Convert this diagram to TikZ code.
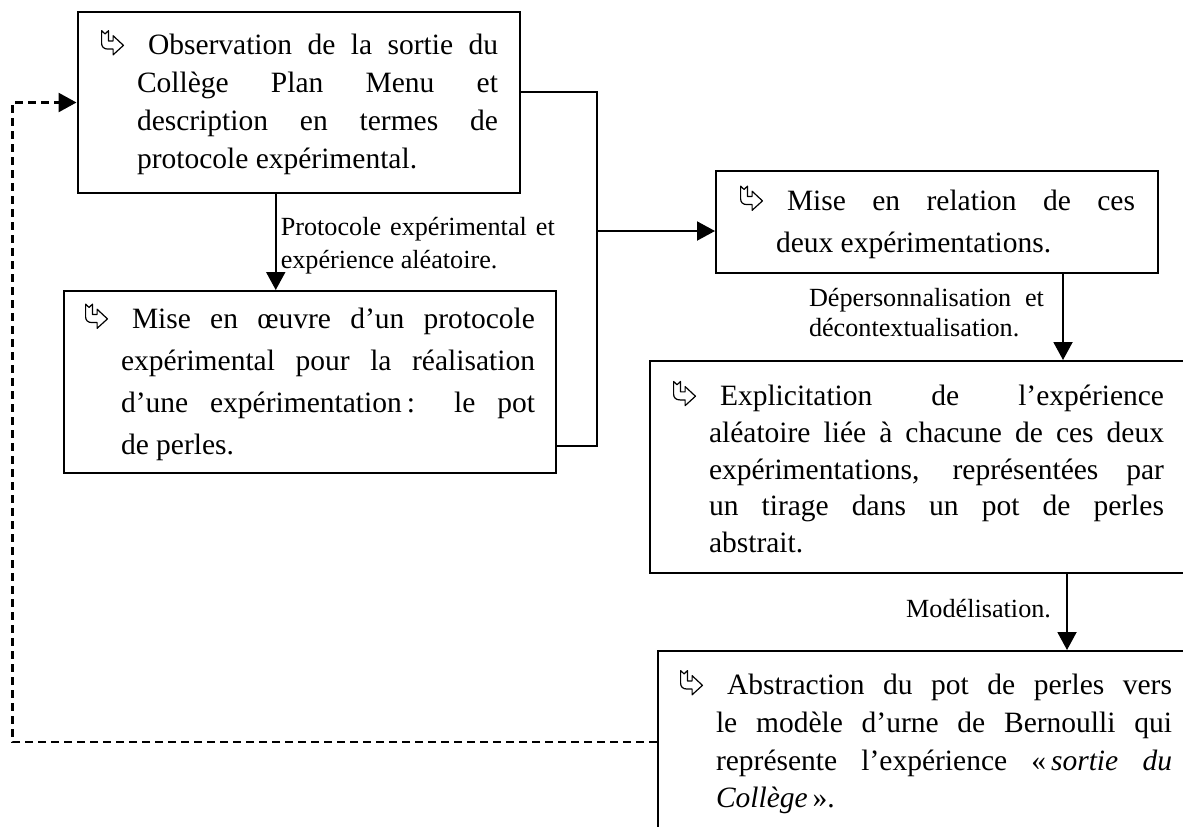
\documentclass[tikz,border=0pt]{standalone}
\usepackage{fontspec}
\setmainfont{Liberation Serif}
\usetikzlibrary{arrows.meta}
\tolerance=10000
\hbadness=10000

\newcommand{\puce}{\leavevmode\llap{\makebox[18pt][l]{\tikz[baseline=-0.5pt, x=11.5pt, y=11.5pt, line width=0.6pt, line join=round]
    \draw (0.05,1) -- (0.2,0.86) -- (0.35,1) -- (0.35,0.55) -- (0.55,0.55) -- (0.55,0.78) -- (1,0.36)
          -- (0.55,-0.05) -- (0.55,0.2) -- (0.32,0.2) .. controls (0.15,0.2) and (0.05,0.3) .. (0.05,0.45) -- cycle;}}\hspace*{5.5pt}}

\begin{document}
\begin{tikzpicture}[x=0.5pt, y=-0.5pt,
                    etape/.style={draw, line width=1pt, anchor=north west, align=justify,
                                  inner ysep=0pt, execute at begin node={\leftskip=#1\relax}},
                    etiquette/.style={inner sep=0pt, align=justify},
                    fleche/.style={line width=1pt, -{Triangle[length=9pt,width=9.5pt]}}]
                    \tikzstyle{pointille}=[line width=1.3pt, dash pattern=on 4pt off 2.5pt]
                    \useasboundingbox (0,0) rectangle (1183,826);
                    \clip (0,0) rectangle (1183,826);

                    \node[etape=18.75pt, text width=199.25pt, inner xsep=11pt, minimum height=90.5pt,
                          font=\fontsize{14.75pt}{19pt}\selectfont] (observation) at (76.5,11)
                        {\puce Observation de la sortie du\linebreak Collège Plan Menu et\linebreak
                         description en termes de\linebreak protocole expérimental.};
                    \node[etape=18pt, text width=225pt, inner xsep=10.5pt, minimum height=91pt,
                          font=\fontsize{14.75pt}{21pt}\selectfont] (oeuvre) at (63,290)
                        {\puce Mise en œuvre d’un protocole\linebreak expérimental pour la réalisation\linebreak
                         d’une expérimentation\,: le pot\linebreak de perles.};
                    \node[etape=18.5pt, text width=198pt, inner xsep=11.5pt, minimum height=51pt,
                          font=\fontsize{14.75pt}{21pt}\selectfont] (relation) at (715,170)
                        {\puce Mise en relation de ces\linebreak deux expérimentations.};
                    \node[etape=14pt, text width=241.5pt, inner xsep=15.5pt, minimum height=106pt,
                          font=\fontsize{14.75pt}{18.4pt}\selectfont] (explicitation) at (649,360)
                        {\puce Explicitation de l’expérience\linebreak aléatoire liée à chacune de ces deux\linebreak
                         expérimentations, représentées par\linebreak un tirage dans un pot de perles\linebreak abstrait.};
                    \node[etape=17pt, text width=245pt, inner xsep=12pt, minimum height=91pt,
                          font=\fontsize{14.75pt}{18.85pt}\selectfont] (abstraction) at (657,650)
                        {\puce Abstraction du pot de perles vers\linebreak le modèle d’urne de Bernoulli qui\linebreak
                         représente l’expérience «\,\textit{sortie du}\linebreak \textit{Collège}\,».};

                    \coordinate (carrefour) at (597,231);
                    \coordinate (retour) at (12.5,400);

                    \draw[fleche] ([xshift=-11.5pt]observation.south) -- ([xshift=-11.5pt]observation.south |- oeuvre.north)
                        node[etiquette, pos=0.235, anchor=north west, xshift=2pt, text width=137pt,
                             font=\fontsize{13.1pt}{16.5pt}\selectfont] (protocole)
                        {Protocole expérimental et\linebreak expérience aléatoire.};
                    \draw[line width=1pt] ([yshift=5.25pt]observation.east) -| (carrefour) |- ([yshift=-32pt]oeuvre.east);
                    \draw[fleche] (carrefour) -- (carrefour -| relation.west);
                    \draw[fleche] ([xshift=63pt]relation.south) -- ([xshift=63pt]relation.south |- explicitation.north)
                        node[etiquette, pos=0.15, anchor=north east, xshift=-9pt, text width=117.5pt,
                             font=\fontsize{13.1pt}{15pt}\selectfont] (depersonnalisation)
                        {Dépersonnalisation et\linebreak décontextualisation.};
                    \draw[fleche] ([xshift=72.25pt]explicitation.south) -- ([xshift=72.25pt]explicitation.south |- abstraction.north)
                        node[etiquette, pos=0.45, anchor=east, xshift=-7.5pt,
                             font=\fontsize{13.1pt}{15pt}\selectfont] (modelisation) {Modélisation.};
                    \draw[fleche, pointille] (abstraction.west) -| (retour) |- (observation.west);
                \end{tikzpicture}
\end{document}
